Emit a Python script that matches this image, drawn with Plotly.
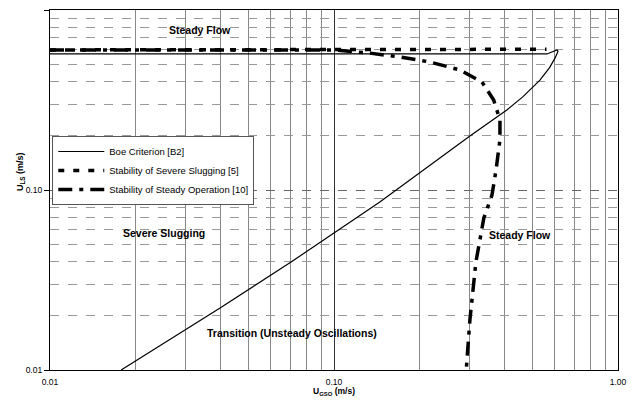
import math
import plotly.graph_objects as go

# Boe criterion [B2]
boe_x = [0.0178, 0.0397, 0.0706, 0.145, 0.301, 0.406, 0.462, 0.531, 0.575, 0.600, 0.615, 0.610, 0.562, 0.01]
boe_y = [0.0100, 0.0221, 0.0398, 0.0858, 0.1995, 0.278, 0.329, 0.408, 0.480, 0.540, 0.590, 0.600, 0.570, 0.570]

# Stability of Severe Slugging [5]
ss_x = [0.01, 0.10, 0.56]
ss_y = [0.600, 0.605, 0.605]

# Stability of Steady Operation [10]
so_x = [0.01, 0.10, 0.134, 0.171, 0.218, 0.278, 0.332, 0.365, 0.384, 0.384, 0.372, 0.360, 0.337, 0.316, 0.301, 0.292]
so_y = [0.600, 0.600, 0.576, 0.548, 0.514, 0.464, 0.398, 0.316, 0.245, 0.190, 0.129, 0.0938, 0.0699, 0.0398, 0.019, 0.0099]

major_vals = [0.01, 0.1, 1.0]
major_text = ["0.01", "0.10", "1.00"]
minor_vals = [0.02, 0.03, 0.04, 0.05, 0.06, 0.07, 0.08, 0.09,
              0.2, 0.3, 0.4, 0.5, 0.6, 0.7, 0.8, 0.9]

labels = ["Steady Flow", "Severe Slugging", "Steady Flow", "Transition (Unsteady Oscillations)"]
label_x = [0.0337, 0.0252, 0.452, 0.0711]
label_y = [0.774, 0.0577, 0.0562, 0.0161]

FONT = "Arial, Liberation Sans, sans-serif"

fig = go.Figure()
fig.add_trace(go.Scatter(x=boe_x, y=boe_y, mode="lines", name="Boe Criterion [B2]",
                         line=dict(color="black", width=1.2)))
fig.add_trace(go.Scatter(x=ss_x, y=ss_y, mode="lines", name="Stability of Severe Slugging [5]",
                         line=dict(color="black", width=3.5, dash="6px,9px")))
fig.add_trace(go.Scatter(x=so_x, y=so_y, mode="lines", name="Stability of Steady Operation [10]",
                         line=dict(color="black", width=3.5, dash="14px,7px,4px,7px")))

for t, x, y in zip(labels, label_x, label_y):
    fig.add_annotation(x=math.log10(x), y=math.log10(y), xref="x", yref="y", text="<b>" + t + "</b>",
                       showarrow=False, font=dict(family=FONT, size=10.5, color="black"))

# axis titles
fig.add_annotation(x=0, y=0.55, xref="paper", yref="paper", xshift=-29, textangle=-90,
                   xanchor="center", yanchor="middle",
                   text="<b>U<sub>LS</sub> (m/s)</b>", showarrow=False,
                   font=dict(family=FONT, size=9, color="black"))
fig.add_annotation(x=0.5, y=0, xref="paper", yref="paper", yshift=-21,
                   xanchor="center", yanchor="middle",
                   text="<b>U<sub>GSO</sub> (m/s)</b>", showarrow=False,
                   font=dict(family=FONT, size=8.5, color="black"))

fig.update_xaxes(type="log", range=[-2, 0], tickvals=major_vals, ticktext=major_text,
                 showgrid=True, gridcolor="#333", gridwidth=1,
                 minor=dict(tickvals=minor_vals, showgrid=True, gridcolor="#888", gridwidth=1),
                 showline=True, linecolor="black", linewidth=1.2, mirror=True,
                 ticks="", ticklabelstandoff=4, tickfont=dict(family=FONT, size=8.5, color="black"),
                 automargin=False, zeroline=False)
fig.update_yaxes(type="log", range=[-2, 0], tickvals=major_vals, ticktext=major_text,
                 showgrid=True, gridcolor="#666", gridwidth=1, griddash="dash",
                 minor=dict(tickvals=minor_vals, showgrid=True, gridcolor="#999", gridwidth=1, griddash="dash"),
                 showline=True, linecolor="black", linewidth=1.2, mirror=True,
                 ticks="outside", ticklen=5, tickcolor="black",
                 tickfont=dict(family=FONT, size=8.5, color="black"),
                 automargin=False, zeroline=False)

fig.update_layout(
    width=640, height=400,
    margin=dict(l=42, r=30, t=2, b=38),
    paper_bgcolor="white", plot_bgcolor="white",
    font=dict(family=FONT, size=9, color="black"),
    showlegend=True,
    legend=dict(x=0.004, y=0.65, xanchor="left", yanchor="top",
                bgcolor="white", bordercolor="#555", borderwidth=1,
                font=dict(family=FONT, size=9.5, color="black"),
                tracegroupgap=0, itemwidth=46),
)

fig.write_html("out.html")
